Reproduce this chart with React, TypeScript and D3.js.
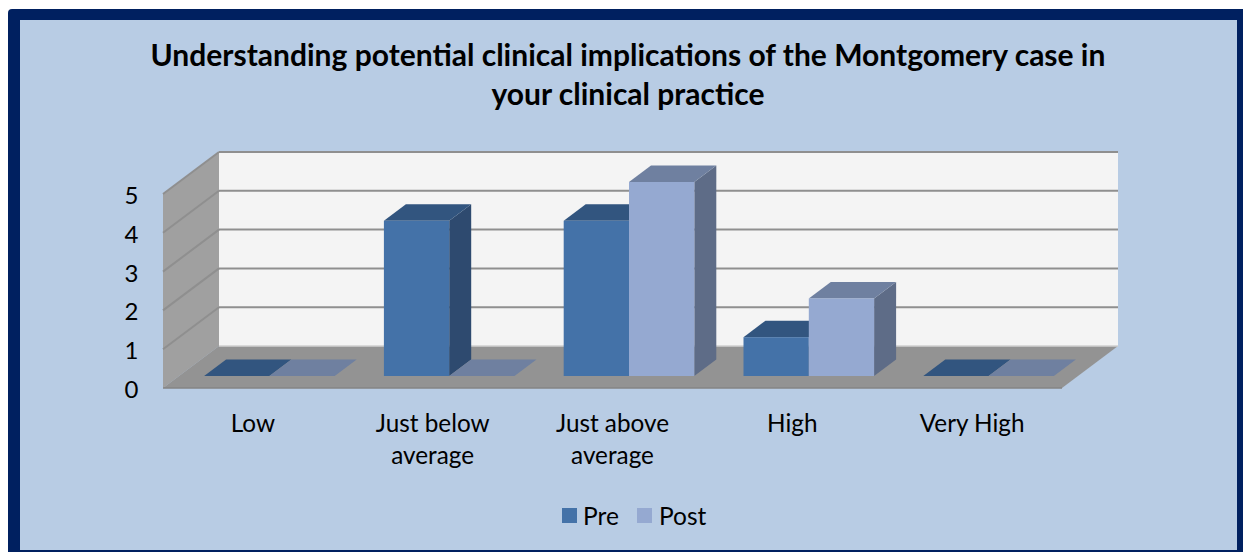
import React from "react";
import * as d3 from "d3";

const categories = [["Low"], ["Just below", "average"], ["Just above", "average"], ["High"], ["Very High"]];
const preValues = [0, 4, 4, 1, 0];
const postValues = [0, 0, 5, 2, 0];
const yTicks = [0, 1, 2, 3, 4, 5];
const titleLines = ["Understanding potential clinical implications of the Montgomery case in", "your clinical practice"];
const seriesNames = ["Pre", "Post"];

const FONT = "Lato, Carlito, sans-serif";
const C = {
  bg: "#B8CCE4", border: "#002060", wall: "#F4F4F4", side: "#A0A0A0", floor: "#939393", grid: "#8F8F8F",
  pre: { front: "#4472A8", side: "#2E4A6F", top: "#32557F" },
  post: { front: "#95A9D1", side: "#5E6C87", top: "#6F80A0" },
};

// Projection geometry
const frontX0 = 163, frontX1 = 1062, frontY = 388;
const depthX = 56, depthY = -42;
const plotH = 194;
const barOffX = 16.5, barOffY = -12, barDX = 22, barDY = -16.5;

const x = d3.scaleBand<number>().domain(d3.range(categories.length)).range([frontX0, frontX1]);
const y = d3.scaleLinear().domain([0, 5]).range([0, plotH]);
const barW = 65.3;

const poly = (pts: number[][]) => d3.line()(pts as [number, number][]) + "Z";

function Bar({ left, value, col }: { left: number; value: number; col: { front: string; side: string; top: string } }) {
  const b = frontY + barOffY;
  const h = y(value);
  const t = b - h;
  const r = left + barW;
  return (
    <g>
      {h > 0 && <path d={poly([[r, b], [r + barDX, b + barDY], [r + barDX, t + barDY], [r, t]])} fill={col.side} />}
      <path d={poly([[left, t], [r, t], [r + barDX, t + barDY], [left + barDX, t + barDY]])} fill={col.top} />
      {h > 0 && <rect x={left} y={t} width={barW} height={h} fill={col.front} />}
    </g>
  );
}

export default function App() {
  const backX0 = frontX0 + depthX, backX1 = frontX1 + depthX, backY = frontY + depthY;
  return (
    <svg width={1247} height={552} style={{ position: "absolute", left: 0, top: 0, display: "block" }} fontFamily={FONT}>
      <rect x={0} y={0} width={1247} height={552} fill="#fff" />
      <path d="M8,552V13a4,4 0 0 1 4,-4H1243V552Z" fill={C.border} />
      <rect x={20} y={20} width={1217} height={530} fill={C.bg} />

      {titleLines.map((l, i) => (
        <text key={i} x={628} y={66 + i * 39} textAnchor="middle" fontSize={30} fontWeight={700} fill="#000">{l}</text>
      ))}

      {/* walls */}
      <rect x={backX0} y={backY - plotH} width={backX1 - backX0} height={plotH} fill={C.wall} />
      <path d={poly([[frontX0, frontY - plotH], [backX0, backY - plotH], [backX0, backY], [frontX0, frontY]])} fill={C.side} />
      <path d={poly([[frontX0, frontY], [backX0, backY], [backX1, backY], [frontX1, frontY]])} fill={C.floor} />
      <line x1={frontX0} x2={frontX1} y1={frontY} y2={frontY} stroke="#858585" strokeWidth={1.5} />
      <line x1={backX0} x2={backX1} y1={backY} y2={backY} stroke="#D0D0D0" strokeWidth={1.5} />

      {yTicks.filter((t) => t > 0).map((t) => (
        <g key={t} stroke={C.grid} strokeWidth={2} fill="none">
          <line x1={backX0} x2={backX1} y1={backY - y(t)} y2={backY - y(t)} />
          <line x1={frontX0} x2={backX0} y1={frontY - y(t)} y2={backY - y(t)} />
        </g>
      ))}

      {categories.map((_, i) => {
        const c = x(i)! + x.bandwidth() / 2 + barOffX;
        return (
          <g key={i}>
            <Bar left={c - barW} value={preValues[i]} col={C.pre} />
            <Bar left={c} value={postValues[i]} col={C.post} />
          </g>
        );
      })}

      {yTicks.map((t) => (
        <text key={t} x={131.5} y={frontY - y(t) + 10} textAnchor="middle" fontSize={24} fill="#000">{t}</text>
      ))}

      {categories.map((lines, i) =>
        lines.map((l, j) => (
          <text key={j + "-" + i} x={x(i)! + x.bandwidth() / 2} y={432 + j * 32} textAnchor="middle" fontSize={24.3} fill="#000">{l}</text>
        ))
      )}

      <rect x={562} y={508} width={15} height={15} fill={C.pre.front} />
      <text x={583} y={524.5} fontSize={24.5} fill="#000">{seriesNames[0]}</text>
      <rect x={637} y={508} width={15} height={15} fill={C.post.front} />
      <text x={659} y={524.5} fontSize={24.5} fill="#000">{seriesNames[1]}</text>
    </svg>
  );
}
